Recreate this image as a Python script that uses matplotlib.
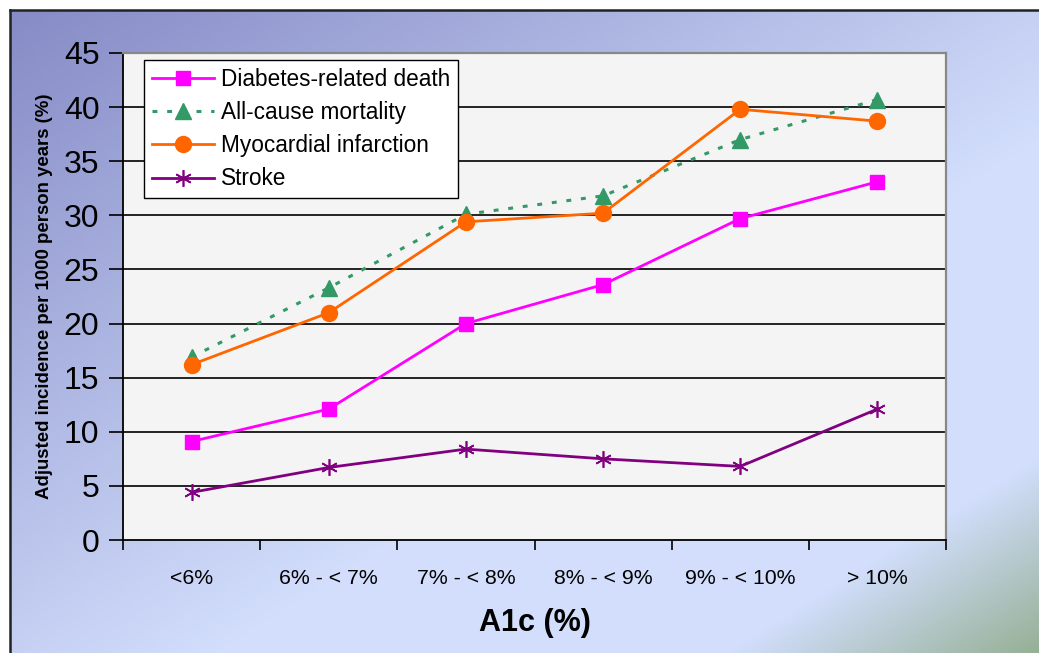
import numpy as np
import matplotlib
matplotlib.use("Agg")
import matplotlib.pyplot as plt
from matplotlib.lines import Line2D

plt.rcParams['font.family'] = ['Liberation Sans', 'DejaVu Sans']

categories = ["<6%", "6% - < 7%", "7% - < 8%", "8% - < 9%", "9% - < 10%", "> 10%"]
diabetes_death = [9.1, 12.1, 20.0, 23.6, 29.7, 33.1]
all_cause = [16.9, 23.3, 30.1, 31.8, 37.0, 40.7]
myocardial = [16.2, 21.0, 29.4, 30.2, 39.8, 38.7]
stroke = [4.4, 6.7, 8.4, 7.5, 6.8, 12.1]
y_ticks = [0, 5, 10, 15, 20, 25, 30, 35, 40, 45]

W, H = 1039, 653
fig = plt.figure(figsize=(W / 100, H / 100), dpi=100)
fig.patch.set_facecolor('white')

# background gradient panel
bg = fig.add_axes([10 / W, 0, 1 - 10 / W, 1 - 10 / H], zorder=0)
bg.set_axis_off()
nx, ny = 300, 200
gx, gy = np.meshgrid(np.linspace(0, 1, nx), np.linspace(0, 1, ny))
d = (gx + gy) / 2.0
c0 = np.array([134, 139, 198]) / 255.0
c1 = np.array([210, 222, 252]) / 255.0
c2 = np.array([150, 176, 150]) / 255.0
t1 = np.clip(d / 0.6, 0, 1)[..., None]
img = c0 * (1 - t1) + c1 * t1
t2 = np.clip((d - 0.85) / 0.15, 0, 1)[..., None]
img = img * (1 - t2) + c2 * t2
bg.imshow(img, aspect='auto', extent=[0, 1, 0, 1], origin='upper')
bg.set_xlim(0, 1)
bg.set_ylim(0, 1)

# border lines (left and top)
fig.add_artist(Line2D([10 / W, 10 / W], [0, 1 - 10 / H], color='#222222', lw=1.8, transform=fig.transFigure, zorder=1))
fig.add_artist(Line2D([10 / W, 1], [1 - 10 / H, 1 - 10 / H], color='#222222', lw=1.8, transform=fig.transFigure, zorder=1))

left, right, top, bottom = 123, 946, 53, 540
ax = fig.add_axes([left / W, 1 - bottom / H, (right - left) / W, (bottom - top) / H], zorder=2)
ax.set_facecolor('#f4f4f4')

x = np.arange(len(categories))
ax.set_xlim(-0.5, len(categories) - 0.5)
ax.set_ylim(0, 45)

for yv in y_ticks[1:-1]:
    ax.axhline(yv, color='black', lw=1.2, zorder=1)

lw = 2.0
ax.plot(x, diabetes_death, color='#ff00ff', lw=lw, marker='s', ms=10.5, mec='#ff00ff', mfc='#ff00ff',
        label='Diabetes-related death', zorder=4)
ax.plot(x, all_cause, color='#339966', lw=lw * 1.1, ls=(0, (1.6, 3.2)), marker='^', ms=12, mec='#339966',
        mfc='#339966', label='All-cause mortality', zorder=3)
ax.plot(x, myocardial, color='#ff6600', lw=lw, marker='o', ms=11.5, mec='#ff6600', mfc='#ff6600',
        label='Myocardial infarction', zorder=4)
ax.plot(x, stroke, color='#800080', lw=lw, marker=(6, 2, 0), ms=12, mec='#800080', mew=1.2,
        label='Stroke', zorder=4)

ax.set_yticks(y_ticks)
ax.set_yticklabels([str(v) for v in y_ticks], fontsize=23)
ax.set_xticks(x)
ax.set_xticklabels(categories, fontsize=15.3)
ax.tick_params(axis='x', length=0, pad=21)
ax.set_xticks(np.arange(len(categories) + 1) - 0.5, minor=True)
ax.tick_params(axis='x', which='minor', length=7, width=1.2, direction='out', color='black')
ax.tick_params(axis='y', length=10, width=1.2, direction='out', pad=7)

ax.spines['left'].set_color('black')
ax.spines['bottom'].set_color('black')
ax.spines['left'].set_linewidth(1.3)
ax.spines['bottom'].set_linewidth(1.3)
ax.spines['top'].set_color('#888888')
ax.spines['right'].set_color('#888888')
ax.spines['top'].set_linewidth(1.6)
ax.spines['right'].set_linewidth(1.6)

ax.set_xlabel('A1c (%)', fontsize=22, fontweight='bold', labelpad=14)
fig.text(45 / W, 1 - 296 / H, 'Adjusted incidence per 1000 person years (%)', rotation=90,
         fontsize=13.4, fontweight='bold', ha='center', va='center')

leg = ax.legend(loc='upper left', bbox_to_anchor=((144 - left) / (right - left), 1 - (60 - top) / (bottom - top)),
                fontsize=16.3, frameon=True, fancybox=False, framealpha=1, edgecolor='black',
                borderaxespad=0, handlelength=2.75, handletextpad=0.3, labelspacing=0.45,
                borderpad=0.35)
leg.get_frame().set_linewidth(1.0)
leg.set_zorder(6)

fig.savefig('out.png', dpi=100)
